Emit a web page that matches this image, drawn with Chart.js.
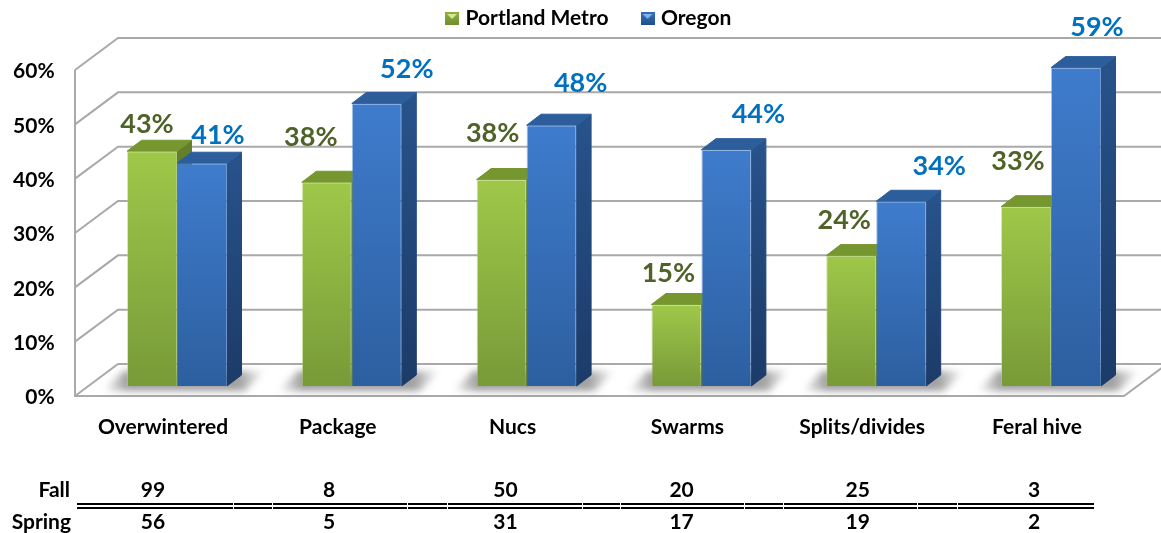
<!DOCTYPE html>
<html>
<head>
<meta charset="utf-8">
<style>
  html, body { margin: 0; padding: 0; background: #fff; }
  canvas { display: block; }
</style>
</head>
<body>
<canvas id="chart" width="1161" height="533"></canvas>
<script src="https://cdn.jsdelivr.net/npm/chart.js@4"></script>
<script>
const categories = ['Overwintered', 'Package', 'Nucs', 'Swarms', 'Splits/divides', 'Feral hive'];
const portlandMetro = [43.2, 37.5, 38, 15, 24, 33];
const oregon = [41, 52, 48, 43.5, 34, 58.6];
const fallCounts = [99, 8, 50, 20, 25, 3];
const springCounts = [56, 5, 31, 17, 19, 2];

// where each value label sits relative to the top of its bar
const portlandNudge = [[-5, -27], [-16, -45], [-9, -46], [-8, -31], [-7, -35], [-8, -45]];
const oregonNudge = [[16, -28], [30, -34], [29, -42], [32, -35], [38, -35], [21, -40]];

const FONT = 'Lato, "Open Sans", sans-serif';
const GRID = '#a9a9a9';
const DX = 14.5, DY = -11;   // depth of the fake 3D

const looks = [
  { top: '#9fc849', bottom: '#789a38', edge: 'rgba(176,214,92,0.5)', cap: '#76962f', sideTop: '#647f2b', sideBottom: '#4f6722', text: '#4f6228' },
  { top: '#3f7ccd', bottom: '#2c5f9f', edge: 'rgba(78,138,216,0.5)', cap: '#2d5e9c', sideTop: '#27528a', sideBottom: '#1c3b68', text: '#0070c0' }
];

function frontFill(look) {
  return ctx => {
    if (ctx.type !== 'data' || !ctx.parsed) return look.top;
    const y = ctx.chart.scales.y;
    const y0 = y.getPixelForValue(ctx.parsed.y), y1 = y.getPixelForValue(0);
    if (!isFinite(y0) || !isFinite(y1)) return look.top;
    const g = ctx.chart.ctx.createLinearGradient(0, y0, 0, y1);
    g.addColorStop(0, look.top);
    g.addColorStop(1, look.bottom);
    return g;
  };
}

function legendMarker(light, mid, dark) {
  const c = document.createElement('canvas');
  c.width = 14; c.height = 13;
  const x = c.getContext('2d');
  const g = x.createLinearGradient(0, 0, 0, 13);
  g.addColorStop(0, mid);
  g.addColorStop(1, dark);
  x.fillStyle = g;
  x.fillRect(0, 0, 14, 13);
  x.fillStyle = light;
  x.beginPath();
  x.moveTo(2, 2); x.lineTo(12, 2); x.lineTo(7, 7);
  x.fill();
  return c;
}
const markers = [legendMarker('#d3e88f', '#8fb13f', '#6f8f30'), legendMarker('#7db4ea', '#3570b8', '#234f8c')];

const wallPlugin = {
  id: 'wall',
  beforeDatasetsDraw(chart) {
    const { ctx, scales: { y } } = chart;
    const frontX = 75, backX = 118, floorDrop = 10, wallRise = -22, rightEdge = 1161;
    ctx.save();
    ctx.strokeStyle = GRID;
    ctx.lineWidth = 2;
    y.ticks.forEach(t => {
      const py = y.getPixelForValue(t.value);
      ctx.beginPath();
      ctx.moveTo(frontX, py + floorDrop);
      ctx.lineTo(backX, py + wallRise);
      ctx.lineTo(rightEdge, py + wallRise);
      ctx.stroke();
    });
    // left wall and floor edge
    const zero = y.getPixelForValue(0);
    ctx.beginPath();
    ctx.moveTo(frontX, y.getPixelForValue(60) + floorDrop);
    ctx.lineTo(frontX, zero + floorDrop);
    ctx.lineTo(1124, zero + floorDrop);
    ctx.lineTo(1167, zero + wallRise);
    ctx.stroke();

    // soft floor shadow behind each pair of bars
    const a = chart.getDatasetMeta(0).data, b = chart.getDatasetMeta(1).data;
    a.forEach((el, i) => {
      const l = el.x - el.width / 2, r = b[i].x + b[i].width / 2;
      const g = ctx.createLinearGradient(l - 24, 0, r + 38, 0);
      const w = r - l + 62;
      g.addColorStop(0, 'rgba(120,120,120,0)');
      g.addColorStop(24 / w, 'rgba(120,120,120,0.7)');
      g.addColorStop((r - l + 36) / w, 'rgba(120,120,120,0.7)');
      g.addColorStop(1, 'rgba(120,120,120,0)');
      ctx.save();
      ctx.filter = 'blur(3.5px)';
      ctx.fillStyle = g;
      ctx.beginPath();
      ctx.moveTo(l - 24, zero + 5);
      ctx.lineTo(r + 18, zero + 5);
      ctx.lineTo(r + 38, zero - 15);
      ctx.lineTo(l - 4, zero - 15);
      ctx.closePath();
      ctx.fill();
      ctx.restore();
    });

    // top and side faces go behind the front faces
    ctx.lineJoin = 'round';
    ctx.lineWidth = 1;
    looks.forEach((look, d) => {
      chart.getDatasetMeta(d).data.forEach(el => {
        const l = el.x - el.width / 2, r = el.x + el.width / 2;
        const side = ctx.createLinearGradient(0, el.y, 0, el.base);
        side.addColorStop(0, look.sideTop);
        side.addColorStop(1, look.sideBottom);
        ctx.fillStyle = ctx.strokeStyle = side;
        ctx.beginPath();
        ctx.moveTo(r, el.y);
        ctx.lineTo(r + DX, el.y + DY);
        ctx.lineTo(r + DX, el.base + DY);
        ctx.lineTo(r, el.base);
        ctx.closePath();
        ctx.fill();
        ctx.stroke();
        ctx.fillStyle = ctx.strokeStyle = look.cap;
        ctx.beginPath();
        ctx.moveTo(l, el.y);
        ctx.lineTo(l + DX, el.y + DY);
        ctx.lineTo(r + DX, el.y + DY);
        ctx.lineTo(r, el.y);
        ctx.closePath();
        ctx.fill();
        ctx.stroke();
      });
    });
    ctx.restore();
  },
  afterDatasetsDraw(chart) {
    const { ctx } = chart;
    ctx.save();
    ctx.textAlign = 'center';
    ctx.textBaseline = 'middle';
    ctx.font = 'bold 27px ' + FONT;
    [portlandNudge, oregonNudge].forEach((nudge, d) => {
      ctx.fillStyle = looks[d].text;
      const meta = chart.getDatasetMeta(d);
      meta.data.forEach((el, i) => {
        const v = chart.data.datasets[d].data[i];
        ctx.fillText(Math.round(v) + '%', el.x + nudge[i][0], el.y + nudge[i][1]);
      });
    });
    ctx.restore();
  }
};

const tablePlugin = {
  id: 'countsTable',
  afterDraw(chart) {
    const { ctx, scales: { x } } = chart;
    ctx.save();
    ctx.fillStyle = '#000';
    ctx.font = 'bold 21px ' + FONT;
    ctx.textBaseline = 'middle';
    ctx.textAlign = 'right';
    ctx.fillText('Fall', 70, 490);
    ctx.fillText('Spring', 71, 522);
    ctx.textAlign = 'center';
    categories.forEach((c, i) => {
      const cx = x.getPixelForTick(i) - 24 + i * 1.4;
      ctx.fillText(fallCounts[i], cx, 490);
      ctx.fillText(springCounts[i], cx, 522);
    });
    // double rule, broken where the table cells meet
    const stops = [76, 233, 272, 407, 447, 582, 620, 744, 783, 917, 957, 1094];
    for (let i = 0; i < stops.length - 1; i++) {
      ctx.fillRect(stops[i] + 1, 503, stops[i + 1] - stops[i] - 1, 2);
      ctx.fillRect(stops[i] + 1, 507, stops[i + 1] - stops[i] - 1, 2);
    }
    ctx.restore();
  }
};

// keep the legend text up at the top while the plot starts lower down
const legendPlacePlugin = {
  id: 'legendPlace',
  beforeLayout(chart) {
    const legend = chart.legend;
    if (legend && !legend.fitWrapped) {
      const fit = legend.fit;
      legend.fit = function () {
        fit.call(this);
        this.height = 60;
      };
      legend.fitWrapped = true;
    }
  },
  afterLayout(chart) {
    chart.legend.top = -28;
    chart.legend.left += 21;
    chart.legend.right += 21;
  }
};

new Chart(document.getElementById('chart'), {
  type: 'bar',
  data: {
    labels: categories,
    datasets: [
      { label: 'Portland Metro', data: portlandMetro, backgroundColor: frontFill(looks[0]), borderColor: looks[0].edge, borderWidth: 1 },
      { label: 'Oregon', data: oregon, backgroundColor: frontFill(looks[1]), borderColor: looks[1].edge, borderWidth: 1 }
    ]
  },
  options: {
    responsive: false,
    animation: false,
    events: [],
    categoryPercentage: 100 / 174.8,
    barPercentage: 1,
    layout: { padding: { left: 0, right: 22.6, top: 0, bottom: 0 } },
    scales: {
      x: {
        grid: { display: false, drawTicks: false },
        border: { display: false },
        afterFit: s => { s.height = 147; },
        ticks: {
          color: '#000',
          font: { family: FONT, size: 21, weight: 'bold' },
          padding: 29,
          labelOffset: -14,
          autoSkip: false,
          maxRotation: 0
        }
      },
      y: {
        min: 0,
        max: 60,
        grid: { display: false, drawTicks: false },
        border: { display: false },
        afterFit: s => { s.width = 89.6; },
        ticks: {
          stepSize: 10,
          color: '#000',
          font: { family: FONT, size: 21, weight: 'bold' },
          padding: 35,
          labelOffset: 11.5,
          callback: v => v + '%'
        }
      }
    },
    plugins: {
      tooltip: { enabled: false },
      legend: {
        position: 'top',
        labels: {
          color: '#000',
          font: { family: FONT, size: 21, weight: 'bold' },
          padding: 36,
          boxHeight: 13,
          pointStyleWidth: 6,
          usePointStyle: true,
          generateLabels(chart) {
            return Chart.defaults.plugins.legend.labels.generateLabels(chart).map((item, i) => ({
              ...item,
              pointStyle: markers[i]
            }));
          }
        }
      }
    }
  },
  plugins: [legendPlacePlugin, wallPlugin, tablePlugin]
});
</script>
</body>
</html>
